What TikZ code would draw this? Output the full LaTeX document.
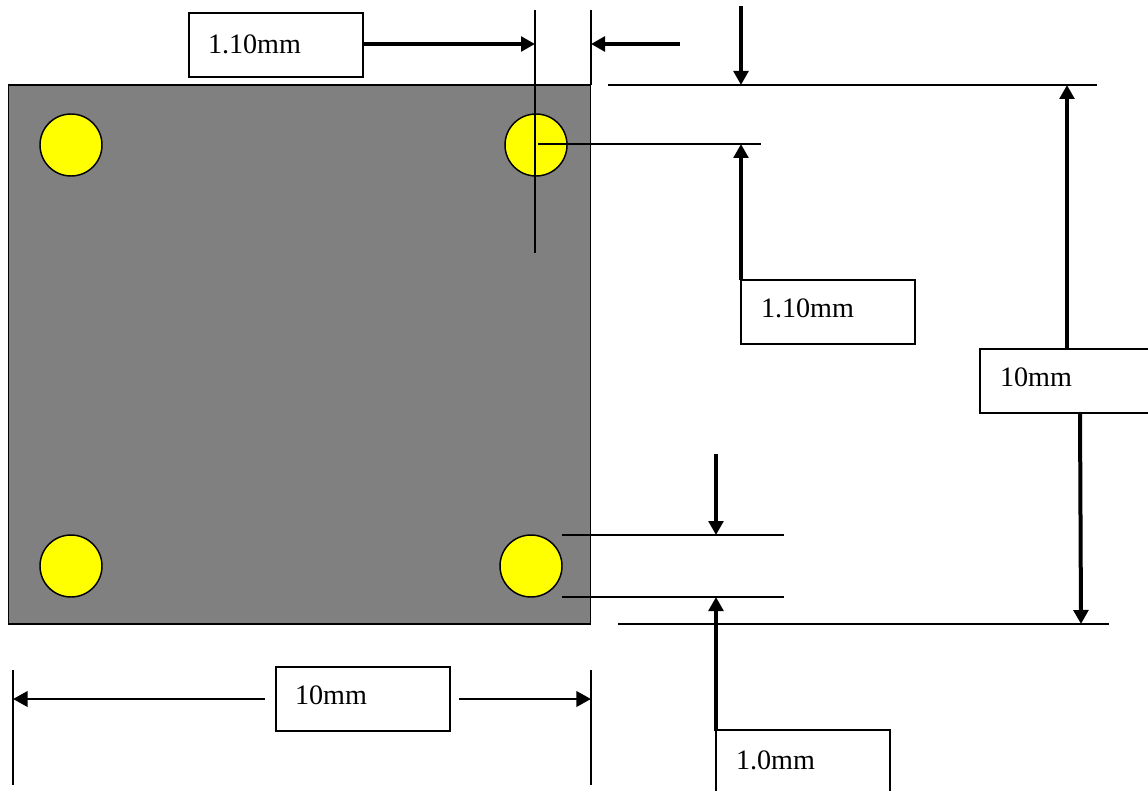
\documentclass[tikz,border=0pt]{standalone}
\usepackage{fontspec}
\setmainfont{Liberation Serif}
\usetikzlibrary{arrows.meta}
\definecolor{padyellow}{RGB}{255,255,0}
\definecolor{bodygray}{RGB}{128,128,128}
\newcommand{\lbl}[3]{\makebox[130.5pt][l]{\hspace{#1}\raisebox{#2}[0pt][0pt]{#3}}}
\tikzset{
 x=0.75pt,y=-0.75pt,
 lab/.style={draw=black,line width=0.8pt,fill=white,minimum width=130.5pt,minimum height=48pt,inner sep=0pt,font=\fontsize{21.1}{24}\selectfont},
 thin line/.style={draw=black,line width=0.85pt},
 dim/.style={draw=black,line width=3pt,-{Triangle[length=10.5pt,width=11pt]}},
 dimthin/.style={draw=black,line width=2.2pt,-{Triangle[length=11pt,width=11.5pt]}},
 pad/.style={circle,draw=black,line width=1.1pt,fill=padyellow,minimum size=46.5pt,inner sep=0pt},
}
\begin{document}
\begin{tikzpicture}
\useasboundingbox (0,0) rectangle (1148,791);
\fill[white] (0,0) rectangle (1148,791);
\node[draw=black,line width=1pt,fill=bodygray,minimum width=436.5pt,minimum height=404.25pt,inner sep=0pt] (body) at (299.75,354.5) {};
\node[pad] (p1) at (71,145) {};
\node[pad] (p2) at (536,145) {};
\node[pad] (p3) at (71,566) {};
\node[pad] (p4) at (531,566) {};
% labels
\node[lab] (l1) at (276,45) {\lbl{14.25pt}{-6.75pt}{1.10mm}};
\node[lab] (l2) at (828,312) {\lbl{15pt}{-3.75pt}{1.10mm}};
\node[lab] (l3) at (1067,381) {\lbl{15pt}{-3.75pt}{10mm}};
\node[lab] (l4) at (363,699) {\lbl{14.25pt}{-3.75pt}{10mm}};
\node[lab] (l5) at (803,762) {\lbl{15pt}{-5.25pt}{1.0mm}};
% extension lines
\coordinate (a1) at (535,10); \coordinate (a2) at (535,253);
\coordinate (b1) at (591,10); \coordinate (b2) at (591,85);
\coordinate (c1) at (608,85); \coordinate (c2) at (1097,85);
\coordinate (d1) at (538,144); \coordinate (d2) at (761,144);
\coordinate (e1) at (562,535); \coordinate (e2) at (784,535);
\coordinate (f1) at (562,597); \coordinate (f2) at (784,597);
\coordinate (g1) at (618,624); \coordinate (g2) at (1109,624);
\coordinate (h1) at (13,670); \coordinate (h2) at (13,785);
\coordinate (i1) at (591,670); \coordinate (i2) at (591,785);
\draw[thin line] (a1)--(a2);
\draw[thin line] (b1)--(b2);
\draw[thin line] (c1)--(c2);
\draw[thin line] (d1)--(d2);
\draw[thin line] (e1)--(e2);
\draw[thin line] (f1)--(f2);
\draw[thin line] (g1)--(g2);
\draw[thin line] (h1)--(h2);
\draw[thin line] (i1)--(i2);
% arrows
\coordinate (A1) at (535,44); \coordinate (A2s) at (680,44); \coordinate (A2) at (591,44);
\draw[dim] (l1.east |- A1) -- (A1);
\draw[dim] (A2s) -- (A2);
\coordinate (B1s) at (741,6); \coordinate (B1) at (741,85);
\draw[dim] (B1s)--(B1);
\coordinate (B2) at (741,144); \coordinate (B2s) at (741,280);
\draw[dim] (B2s)--(B2);
\coordinate (C1) at (1067,85); \coordinate (C1s) at (1067,349);
\draw[dim] (C1s)--(C1);
\coordinate (C2s) at (1080,413); \coordinate (C2) at (1081,624);
\draw[dim] (C2s)--(C2);
\coordinate (D1s) at (716,454); \coordinate (D1) at (716,535);
\draw[dim] (D1s)--(D1);
\coordinate (D2s) at (716,731); \coordinate (D2) at (716,597);
\draw[dim] (D2s)--(D2);
\coordinate (E1s) at (265,699); \coordinate (E1) at (13,699);
\draw[dimthin] (E1s)--(E1);
\coordinate (E2s) at (459,699); \coordinate (E2) at (591,699);
\draw[dimthin] (E2s)--(E2);
\end{tikzpicture}
\end{document}
